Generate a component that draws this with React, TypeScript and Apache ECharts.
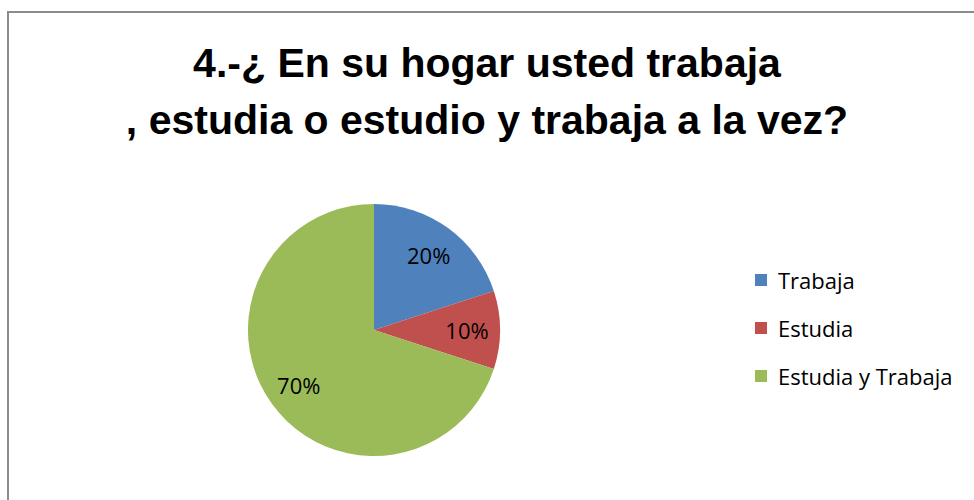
import React, { useEffect, useRef } from "react";
import * as echarts from "echarts";

const titleLines = ["4.-¿ En su hogar usted trabaja", ", estudia o estudio y trabaja a la vez?"];
const categories = ["Trabaja", "Estudia", "Estudia y Trabaja"];
const values = [20, 10, 70];
const colors = ["#4F81BD", "#C0504D", "#9BBB59"];

export default function App() {
  const ref = useRef<HTMLDivElement>(null);
  useEffect(() => {
    if (!ref.current) return;
    const chart = echarts.init(ref.current, null, { renderer: "svg" });
    const data = categories.map((name, i) => ({
      name,
      value: values[i],
      itemStyle: { color: colors[i] },
    }));
    chart.setOption({
      animation: false,
      backgroundColor: "#ffffff",
      graphic: [
        {
          type: "rect",
          shape: { x: 8, y: 12, width: 1000, height: 600 },
          style: { fill: "none", stroke: "#8c8c8c", lineWidth: 2 },
          silent: true,
        },
      ],
      title: {
        text: titleLines.join("\n"),
        left: "center",
        top: 29,
        textStyle: {
          fontFamily: "'Liberation Sans', Arial, sans-serif",
          fontWeight: "bold",
          fontSize: 41,
          lineHeight: 57,
          color: "#000000",
        },
      },
      legend: {
        orient: "vertical",
        left: 750,
        top: 264,
        itemWidth: 12,
        itemHeight: 12,
        itemGap: 26,
        icon: "rect",
        data: categories,
        textStyle: {
          fontFamily: "'Open Sans', 'Noto Sans', sans-serif",
          fontSize: 22,
          color: "#000000",
          padding: [0, 0, 0, 6],
        },
      },
      series: [
        {
          type: "pie",
          center: [374, 330],
          radius: [0, 126],
          startAngle: 90,
          clockwise: true,
          silent: true,
          label: { show: false },
          labelLine: { show: false },
          itemStyle: { borderWidth: 0 },
          data,
        },
        {
          type: "pie",
          center: [374, 330],
          radius: [54, 126],
          startAngle: 90,
          clockwise: true,
          silent: true,
          legendHoverLink: false,
          itemStyle: { color: "transparent", borderWidth: 0 },
          label: {
            show: true,
            position: "inside",
            formatter: "{d}%",
            fontFamily: "'Open Sans', 'Noto Sans', sans-serif",
            fontSize: 22,
            color: "#000000",
          },
          labelLine: { show: false },
          data: categories.map((name, i) => ({ name: name + " ", value: values[i] })),
        },
      ],
    });
    return () => chart.dispose();
  }, []);
  return (
    <div
      ref={ref}
      style={{ position: "fixed", left: 0, top: 0, width: 974, height: 500 }}
    />
  );
}
